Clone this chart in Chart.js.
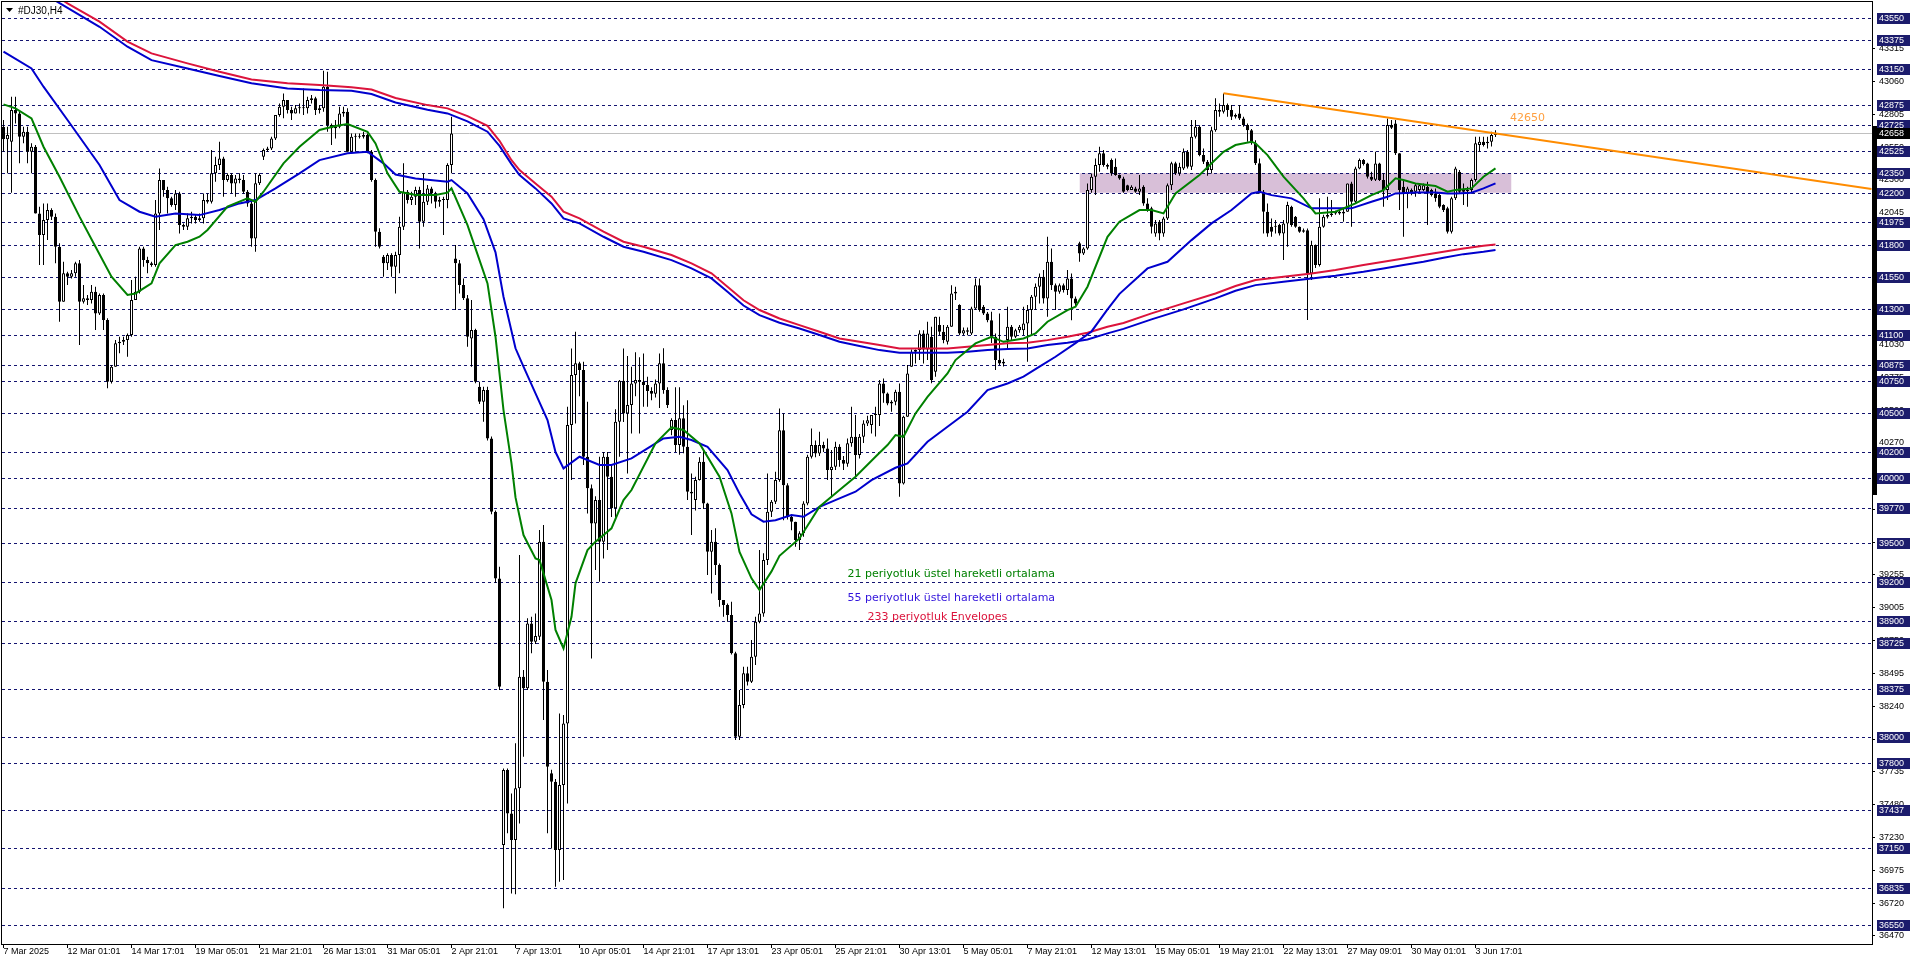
<!DOCTYPE html>
<html>
<head>
<meta charset="utf-8">
<title>#DJ30,H4</title>
<script src="https://cdn.jsdelivr.net/npm/chart.js"></script>
<style>
  html, body { margin: 0; padding: 0; background: #fff; }
  canvas { display: block; }
</style>
</head>
<body>
<canvas id="dj30Chart" width="1916" height="963"></canvas>
<script>
// H4 candles, one entry per bar (bar 0 = 7 Mar 2025)
const opens = [
  42708,42611,42593,42837,42811,42631,42670,42516,42554,42040,41873,41989,42066,42014,41783,41359,41578,41552,41578,41655,
  41359,41385,41372,41436,41269,41411,41218,40742,40858,41038,41051,41064,41102,41372,41436,41770,41680,41655,41642,42040,
  42297,42220,42156,42104,42194,41950,41937,42002,42014,41989,42002,42143,42130,42349,42413,42464,42297,42336,42271,42310,
  42297,42207,42117,41847,42272,42477,42528,42541,42618,42798,42863,42914,42837,42811,42850,42850,42850,42914,42927,42837,
  42850,43017,42721,42696,42708,42811,42824,42516,42631,42631,42631,42644,42516,42297,41899,41706,41655,41719,41629,41719,
  41937,42207,42143,42169,42220,41976,42130,42233,42194,42130,42143,42143,42413,41693,41655,41488,41385,41076,41141,40704,
  40588,40678,40305,39740,39226,37170,37748,37414,37209,37607,38468,38378,38879,38738,38776,39509,38429,37723,37658,37131,
  37633,38108,40408,40794,40884,40832,40164,39920,39650,39830,39509,40164,40010,39766,40434,40750,40498,40562,40729,40755,
  40742,40717,40670,40650,40729,40884,40678,40370,40447,40254,40460,40241,39894,39830,39984,40125,39804,39432,39509,39329,
  39059,39020,38943,38648,38005,38249,38494,38429,38622,38892,38956,39367,39740,39817,39984,40369,39945,39701,39663,39521,
  39573,39804,40164,40254,40189,40254,40228,40061,40087,40241,40138,40110,40267,40318,40177,40318,40421,40408,40485,40485,
  40729,40652,40575,40588,40665,39958,40472,40858,40973,40986,41115,40990,41089,40819,41179,41128,41050,41166,41423,41333,
  41115,41140,41115,41307,41487,41320,41269,41217,41089,40909,40883,41063,41166,41089,41140,41140,41192,41295,41397,41474,
  41552,41384,41667,41487,41436,41487,41449,41539,41384,41809,41731,41770,42220,42323,42413,42503,42413,42451,42400,42336,
  42310,42258,42220,42233,42207,42246,42117,42079,41886,41976,41886,42001,42258,42426,42348,42387,42515,42400,42631,42708,
  42490,42438,42374,42682,42837,42824,42875,42837,42785,42811,42772,42721,42682,42580,42426,42207,42053,41937,41937,41950,
  41886,41963,42091,42014,41937,41911,41911,41577,41796,41642,41937,42014,42027,42040,42053,42040,42053,42271,42130,42387,
  42451,42425,42323,42300,42425,42297,42220,42721,42734,42503,42246,42194,42220,42207,42220,42220,42246,42220,42194,42181,
  42104,42079,41899,42156,42361,42220,42220,42220,42297,42567,42593,42580,42593,42644
];
const highs = [
  42760,42708,42940,42940,42837,42708,42708,42580,42567,42092,42117,42117,42079,42040,41809,41668,41590,41603,41668,41680,
  41488,41411,41488,41475,41423,41423,41231,40871,41064,41089,41089,41115,41526,41552,41783,41783,41706,41668,42143,42387,
  42297,42246,42169,42220,42207,41963,42040,42053,42027,42040,42194,42194,42528,42477,42593,42477,42349,42349,42336,42349,
  42336,42220,42143,42349,42349,42541,42554,42631,42798,42888,42965,42914,42863,42875,42888,43004,42940,42953,42940,42875,
  43140,43132,42734,42760,42863,42863,42850,42657,42657,42657,42670,42657,42528,42310,41925,41719,41732,41732,41745,42014,
  42426,42220,42207,42246,42246,42349,42259,42246,42207,42169,42169,42426,42785,41796,41680,41539,41411,41372,41150,40742,
  40704,40704,40320,39750,39316,37760,37760,37568,37954,39406,38519,38918,38930,38956,39599,39637,38519,37750,37680,38185,
  38172,40550,40999,41128,40896,40896,40588,39950,39860,40164,40200,40200,40100,40530,40755,40999,40940,40858,40970,40930,
  40960,40780,40700,40760,40960,41000,40700,40460,40700,40700,40560,40600,40035,40010,40160,40215,39810,39599,39612,39340,
  39060,39033,39046,38661,38365,38545,38545,38751,38930,39444,39419,40035,39830,40048,40536,40498,39960,39720,39663,39590,
  39820,40180,40382,40290,40357,40280,40305,40215,40279,40260,40170,40305,40549,40485,40340,40446,40480,40485,40549,40755,
  40768,40660,40600,40680,40729,40480,40871,40990,40990,41140,41140,41205,41166,41243,41243,41179,41180,41487,41474,41340,
  41160,41160,41320,41539,41539,41333,41280,41282,41115,41269,40920,41320,41180,41150,41180,41320,41333,41410,41500,41577,
  41603,41860,41770,41500,41500,41500,41603,41577,41400,41821,41780,42271,42348,42464,42554,42528,42425,42464,42464,42340,
  42323,42260,42258,42246,42336,42258,42156,42091,41989,41989,42014,42270,42438,42438,42430,42541,42528,42760,42760,42720,
  42541,42451,42708,42927,42888,42965,42888,42875,42811,42875,42785,42734,42690,42605,42464,42220,42117,42001,41989,41960,
  41989,42130,42100,42020,41940,41924,41924,41830,41800,42156,42030,42168,42143,42060,42060,42079,42271,42284,42400,42464,
  42460,42430,42361,42515,42430,42348,42772,42760,42760,42503,42297,42246,42233,42271,42270,42270,42284,42230,42233,42194,
  42110,42091,42168,42400,42374,42270,42246,42310,42631,42631,42631,42631,42670,42682
];
const lows = [
  42516,42349,42200,42734,42426,42580,42426,42349,42040,41642,41642,41835,41989,41655,41205,41359,41488,41539,41552,41025,
  41346,41333,41346,41141,41256,41141,40691,40729,40858,40961,41025,40935,41089,41372,41423,41629,41578,41629,41629,41912,
  42169,42040,42092,42066,41886,41912,41912,41963,41963,41976,41963,42117,42117,42284,42374,42169,42284,42194,42169,42272,
  42194,42092,41783,41745,42259,42451,42516,42528,42606,42785,42773,42811,42760,42811,42811,42798,42811,42888,42798,42811,
  42824,42670,42567,42618,42696,42785,42516,42516,42516,42618,42618,42503,42284,41783,41770,41552,41603,41552,41423,41578,
  41912,42117,42104,42104,41770,41937,42104,42117,42079,42092,41873,42079,42349,41295,41423,41372,41012,40858,40730,40570,
  40434,40290,39720,39190,38365,36682,37260,36797,36790,37337,37851,38365,38648,38720,38751,38134,37260,37144,36849,36887,
  36900,37491,39984,40421,40630,40100,39727,38609,39290,39200,39380,39444,39700,39700,40164,40432,40035,40344,40630,40344,
  40550,40550,40600,40620,40540,40650,40540,40330,40200,40180,40190,39830,39560,39750,39980,39760,39252,39110,39252,39008,
  38930,38892,38640,37980,37980,38224,38400,38420,38558,38880,38930,39330,39700,39800,39971,39675,39680,39598,39470,39444,
  39547,39790,40150,40160,40170,40200,39984,39855,40061,40087,40061,40087,40240,40010,40150,40270,40400,40344,40320,40400,
  40580,40560,40510,40560,39855,39950,40472,40858,40883,40909,40883,40909,40730,40781,41100,41038,41030,41166,41372,41100,
  41100,41100,41102,41295,41282,41256,41200,41040,40832,40871,40860,40986,41060,41080,41120,41102,40896,41102,41295,41346,
  41346,41243,41449,41295,41420,41430,41410,41217,41320,41667,41719,41760,42200,42181,42361,42400,42380,42330,42330,42300,
  42200,42210,42220,42200,42181,42100,42053,41886,41860,41834,41860,41989,42220,42336,42330,42374,42387,42374,42618,42480,
  42420,42330,42348,42670,42785,42811,42785,42760,42772,42760,42708,42593,42570,42413,42194,41886,41860,41860,41886,41870,
  41680,41783,41937,41930,41890,41890,41218,41526,41620,41630,41930,42000,42014,42030,42030,41976,42053,41937,42120,42380,
  42410,42310,42290,42290,42290,42091,42143,42690,42490,42066,41860,42079,42180,42168,42200,42210,41950,42170,42130,42079,
  42050,41886,41886,42143,42194,42104,42091,42194,42284,42515,42555,42540,42555,42630
];
const closes = [
  42611,42644,42837,42811,42631,42670,42516,42554,42040,41873,41989,42066,42014,41783,41359,41578,41552,41578,41655,41359,
  41385,41372,41436,41269,41411,41218,40742,40858,41038,41051,41064,41102,41372,41436,41770,41680,41655,41642,42040,42297,
  42220,42156,42104,42194,41950,41937,42002,42014,41989,42002,42143,42130,42349,42413,42464,42297,42336,42271,42310,42297,
  42207,42117,41847,42272,42336,42528,42541,42618,42798,42863,42914,42837,42811,42850,42850,42850,42914,42927,42837,42850,
  43017,42721,42696,42708,42811,42824,42516,42631,42631,42631,42644,42516,42297,41899,41783,41655,41719,41629,41719,41937,
  42207,42143,42169,42220,41976,42130,42233,42194,42130,42143,42143,42413,42657,41655,41488,41385,41089,41141,40742,40588,
  40678,40305,39740,39226,38391,37748,37414,37209,37607,38468,38378,38879,38738,38781,39509,38429,37774,37658,37131,37633,
  38108,40408,40794,40884,40832,40164,39920,39650,39830,39509,40164,40010,39766,40434,40750,40498,40562,40729,40755,40742,
  40717,40670,40650,40729,40884,40678,40562,40447,40254,40460,40241,39894,39881,39984,40125,39804,39432,39509,39329,39059,
  39020,38943,38648,38005,38249,38494,38429,38622,38892,38956,39367,39740,39817,39984,40369,39945,39701,39663,39521,39573,
  39804,40164,40254,40189,40254,40228,40061,40087,40241,40138,40110,40267,40318,40177,40318,40421,40446,40485,40485,40729,
  40652,40575,40588,40665,39958,40472,40806,40973,40986,41115,40990,41115,40755,41243,41128,41063,41166,41423,41436,41115,
  41140,41128,41307,41487,41295,41269,41217,41089,40909,40883,40896,41166,41089,41140,41166,41192,41295,41397,41474,41552,
  41384,41667,41487,41436,41487,41449,41539,41384,41346,41731,41770,42220,42323,42413,42503,42413,42400,42348,42336,42310,
  42207,42220,42246,42207,42233,42117,42066,41937,41963,41886,42001,42258,42426,42348,42400,42515,42400,42631,42708,42490,
  42438,42374,42682,42837,42824,42875,42837,42785,42798,42772,42721,42682,42580,42426,42207,42053,41886,41899,41937,41886,
  41963,42104,41950,41937,41899,41899,41577,41796,41642,41937,42014,42027,42040,42053,42040,42053,42271,42130,42387,42451,
  42420,42323,42300,42425,42297,42220,42721,42700,42503,42220,42194,42233,42194,42258,42258,42258,42194,42181,42156,42091,
  42066,41899,42156,42387,42207,42207,42210,42297,42580,42593,42567,42593,42644,42658
];

// bottom axis labels, one every 16 bars
const timeLabels = [
  "7 Mar 2025", "12 Mar 01:01", "14 Mar 17:01", "19 Mar 05:01", "21 Mar 21:01", "26 Mar 13:01",
  "31 Mar 05:01", "2 Apr 21:01", "7 Apr 13:01", "10 Apr 05:01", "14 Apr 21:01", "17 Apr 13:01",
  "23 Apr 05:01", "25 Apr 21:01", "30 Apr 13:01", "5 May 05:01", "7 May 21:01", "12 May 13:01",
  "15 May 05:01", "19 May 21:01", "22 May 13:01", "27 May 09:01", "30 May 01:01", "3 Jun 17:01"
];

// price scale
const priceTicks = [43315, 43060, 42805, 42550, 42300, 42045, 41790, 41540, 41285, 41030, 40775, 40520, 40270, 40015,
  39760, 39505, 39255, 39005, 38750, 38495, 38240, 37985, 37735, 37480, 37230, 36975, 36720, 36470];
const levels = [43550, 43375, 43150, 42875, 42725, 42525, 42350, 42200, 41975, 41800, 41550, 41300, 41100, 40875,
  40750, 40500, 40200, 40000, 39770, 39500, 39200, 38900, 38725, 38375, 38000, 37800, 37437, 37150, 36835, 36550];
const bidPrice = 42658;
const axisBar = [39870, 42714];

// indicators, read at selected bars
const ema21Bars = [0,3,7,10,14,19,23,27,31,33,37,39,43,46,49,51,56,61,63,65,70,74,79,83,86,91,93,96,99,103,108,111,112,116,119,
  121,123,125,127,128,130,133,134,137,138,140,142,143,146,148,152,155,157,163,167,170,174,179,182,184,187,189,192,194,199,
  204,209,213,218,221,223,225,228,231,236,238,243,247,250,255,258,261,266,268,271,276,279,284,287,290,293,299,305,308,312,
  313,316,320,325,328,333,338,342,345,348,350,353,358,361,363,367,370,373];
const ema21Vals = [42881,42850,42773,42554,42323,42015,41783,41552,41411,41423,41500,41655,41796,41822,41860,41912,42092,
  42156,42130,42207,42426,42554,42683,42714,42729,42670,42580,42349,42207,42182,42182,42200,42233,41950,41680,41500,41089,
  40524,40113,39850,39560,39380,39367,39059,38828,38686,38930,39188,39444,39509,39612,39830,39907,40267,40390,40370,40267,
  40010,39727,39430,39226,39136,39280,39400,39534,39778,39907,40010,40164,40254,40331,40318,40498,40626,40806,40909,41038,
  41089,41050,41076,41115,41205,41295,41320,41475,41860,41976,42066,42066,42040,42194,42336,42515,42567,42593,42580,42490,
  42323,42156,42040,42053,42117,42181,42220,42310,42297,42271,42251,42207,42220,42233,42323,42387];

const ema55Bars = [0,7,10,16,24,29,34,38,43,49,54,59,63,68,74,79,86,91,95,98,103,111,112,116,120,123,125,128,130,133,136,
  138,140,144,149,152,157,161,165,169,172,176,181,184,187,190,193,197,200,204,209,213,217,223,226,231,236,241,246,251,255,
  259,263,268,272,276,279,286,291,297,302,307,312,314,317,322,327,333,337,342,346,348,353,358,361,363,367,370,373];
const ema55Vals = [43287,43158,43017,42760,42413,42143,42053,42015,42040,42027,42066,42117,42143,42233,42349,42451,42503,
  42516,42426,42340,42310,42284,42297,42194,41995,41740,41398,41000,40858,40652,40447,40200,40074,40164,40100,40100,40151,
  40228,40305,40318,40293,40241,40061,39881,39720,39663,39675,39714,39701,39778,39843,39894,39984,40079,40112,40279,40395,
  40511,40678,40729,40781,40858,40935,41040,41130,41300,41420,41616,41667,41834,41963,42066,42194,42207,42181,42156,42079,
  42079,42079,42130,42168,42194,42202,42202,42194,42194,42200,42233,42271];

const envUpperBars = [13,16,24,31,37,46,54,62,71,79,87,92,98,106,111,116,121,124,127,129,133,137,140,144,150,155,160,167,
  172,177,181,185,189,194,199,204,209,214,219,224,231,236,241,246,251,256,261,266,271,276,280,287,295,303,308,313,320,327,
  333,340,345,350,355,360,365,370,373];
const envUpperVals = [43720,43659,43518,43364,43274,43197,43132,43073,43043,43030,43012,42995,42930,42875,42850,42790,
  42715,42600,42450,42374,42271,42169,42053,42002,41899,41822,41783,41719,41655,41578,41475,41370,41295,41230,41179,41128,
  41076,41050,41025,40999,40999,40999,41012,41025,41038,41043,41063,41089,41120,41166,41195,41269,41346,41423,41480,41526,
  41552,41577,41603,41642,41667,41693,41719,41745,41770,41791,41801];

const envLowerBars = [13,24,31,37,46,54,62,71,79,87,92,98,106,111,116,121,124,127,129,133,137,140,144,150,155,160,167,172,
  177,181,185,189,194,199,204,209,214,219,224,231,236,241,246,251,256,261,266,271,276,280,287,295,303,308,313,320,327,333,
  340,345,350,355,360,365,370,373];
const envLowerVals = [43680,43479,43325,43222,43158,43099,43043,43004,42991,42986,42960,42895,42840,42811,42750,42670,
  42560,42420,42336,42233,42117,42002,41963,41860,41783,41745,41680,41616,41539,41436,41330,41256,41197,41153,41102,41050,
  41017,40986,40966,40966,40966,40973,40986,40994,40999,41025,41043,41068,41115,41150,41223,41300,41385,41444,41487,41513,
  41539,41560,41590,41616,41642,41667,41698,41726,41744,41757];

// drawn objects
const trendBars = [305, 467];
const trendPrices = [42966, 42228];
const zoneBars = [269, 377];
const zonePrices = [42200, 42350];

const notes = [
  { text: "21 periyotluk üstel hareketli ortalama", bar: 211, price: 39260, color: "rgb(0,128,0)" },
  { text: "55 periyotluk üstel hareketli ortalama", bar: 211, price: 39075, color: "rgb(50,20,220)" },
  { text: "233 periyotluk Envelopes", bar: 216, price: 38928, color: "rgb(220,20,60)" },
  { text: "42650", bar: 376.6, price: 42771, color: "rgb(255,160,64)" },
];

const X_MIN = -0.375;
const X_MAX = 467.125;
const Y_MIN = 36407;
const Y_MAX = 43670;

const FONT = "'Liberation Sans', Arial, sans-serif";
const NOTE_FONT = "11px 'DejaVu Sans', sans-serif";
const LEVEL_COLOR = "#141470";
const BOX_COLOR = "#1c1c6c";

const toPoints = (bars, vals) => bars.map((b, k) => ({ x: b, y: vals[k] }));

const levelLinesPlugin = {
  id: "levelLines",
  beforeDatasetDraw(chart, args) {
    if (chart.data.datasets[args.index].label !== "wicks") return;
    const { ctx, chartArea, scales } = chart;
    ctx.save();
    ctx.lineWidth = 1;
    ctx.strokeStyle = "#c0c0c0";
    const by = Math.round(scales.y.getPixelForValue(bidPrice)) + 0.5;
    ctx.beginPath();
    ctx.moveTo(chartArea.left, by);
    ctx.lineTo(chartArea.right, by);
    ctx.stroke();
    ctx.strokeStyle = LEVEL_COLOR;
    ctx.setLineDash([3, 3]);
    levels.forEach((p) => {
      const py = Math.round(scales.y.getPixelForValue(p)) + 0.5;
      ctx.beginPath();
      ctx.moveTo(chartArea.left, py);
      ctx.lineTo(chartArea.right, py);
      ctx.stroke();
    });
    ctx.restore();
  },
};

const notesPlugin = {
  id: "notes",
  afterDatasetsDraw(chart) {
    const { ctx, scales } = chart;
    ctx.save();
    ctx.textAlign = "left";
    ctx.textBaseline = "middle";
    ctx.font = NOTE_FONT;
    notes.forEach((n) => {
      ctx.fillStyle = n.color;
      ctx.fillText(n.text, scales.x.getPixelForValue(n.bar), scales.y.getPixelForValue(n.price));
    });
    ctx.restore();
  },
};

const frameAndAxisPlugin = {
  id: "frameAndAxis",
  afterDraw(chart) {
    const { ctx, chartArea, scales } = chart;
    const x0 = chartArea.right;
    ctx.save();
    ctx.strokeStyle = "#000";
    ctx.lineWidth = 1;
    ctx.strokeRect(chartArea.left - 0.5, chartArea.top - 0.5,
      chartArea.right - chartArea.left + 1, chartArea.bottom - chartArea.top + 1);

    // thick black strip on the price axis
    const t = scales.y.getPixelForValue(axisBar[1]);
    const b = scales.y.getPixelForValue(axisBar[0]);
    ctx.fillStyle = "#000";
    ctx.fillRect(x0 + 1, Math.round(t), 4, Math.round(b - t));

    ctx.font = `9px ${FONT}`;
    ctx.textAlign = "left";
    ctx.textBaseline = "middle";
    levels.forEach((p) => {
      const py = Math.round(scales.y.getPixelForValue(p));
      ctx.fillStyle = BOX_COLOR;
      ctx.fillRect(x0 + 5, py - 5, 33, 11);
      ctx.fillStyle = "#fff";
      ctx.fillText(String(p), x0 + 7, py + 1);
    });
    const by = Math.round(scales.y.getPixelForValue(bidPrice));
    ctx.fillStyle = "#000";
    ctx.fillRect(x0 + 1, by - 5, 37, 11);
    ctx.fillStyle = "#fff";
    ctx.fillText(String(bidPrice), x0 + 7, by + 1);

    // symbol caption
    ctx.fillStyle = "#000";
    ctx.beginPath();
    ctx.moveTo(6, 8);
    ctx.lineTo(13, 8);
    ctx.lineTo(9.5, 12);
    ctx.closePath();
    ctx.fill();
    ctx.font = `10px ${FONT}`;
    ctx.fillText("#DJ30,H4", 18, 11);
    ctx.restore();
  },
};

const bars = opens.map((o, i) => i);
const wickData = bars.map((i) => ({
  x: i,
  y: [Math.min(lows[i], opens[i], closes[i]), Math.max(highs[i], opens[i], closes[i])],
}));
const bodyData = bars.map((i) => ({ x: i, y: [opens[i], closes[i]] }));
const bodyColors = bars.map((i) => (closes[i] >= opens[i] ? "#ffffff" : "#000000"));

const lineSet = (label, data, color, order) => ({
  type: "line",
  label,
  data,
  borderColor: color,
  borderWidth: 2,
  pointRadius: 0,
  tension: 0,
  fill: false,
  order,
});

Chart.defaults.font.family = FONT;
Chart.defaults.font.size = 9;
Chart.defaults.color = "#000";

const ctx = document.getElementById("dj30Chart").getContext("2d");
new Chart(ctx, {
  type: "bar",
  data: {
    datasets: [
      {
        type: "line",
        label: "zone",
        data: toPoints(zoneBars, [zonePrices[1], zonePrices[1]]),
        borderWidth: 0,
        pointRadius: 0,
        backgroundColor: "rgb(216,191,216)",
        fill: { value: zonePrices[0] },
        order: 10,
      },
      {
        label: "wicks",
        data: wickData,
        backgroundColor: "#000",
        borderWidth: 0,
        barThickness: 1,
        grouped: false,
        inflateAmount: 0,
        order: 6,
      },
      {
        label: "bodies",
        data: bodyData,
        backgroundColor: bodyColors,
        borderColor: "#000",
        borderWidth: 1,
        borderSkipped: false,
        barThickness: 3,
        minBarLength: 1,
        grouped: false,
        inflateAmount: 0,
        order: 5,
      },
      lineSet("Envelopes upper", toPoints(envUpperBars, envUpperVals), "rgb(220,20,60)", 4),
      lineSet("Envelopes lower", toPoints(envLowerBars, envLowerVals), "rgb(0,0,205)", 4),
      lineSet("EMA 55", toPoints(ema55Bars, ema55Vals), "rgb(0,0,205)", 3),
      lineSet("EMA 21", toPoints(ema21Bars, ema21Vals), "rgb(0,128,0)", 2),
      lineSet("Trend", toPoints(trendBars, trendPrices), "rgb(255,140,0)", 1),
    ],
  },
  options: {
    responsive: false,
    animation: false,
    devicePixelRatio: 1,
    events: [],
    layout: { padding: { left: 2, top: 2, right: 0, bottom: 0 } },
    plugins: { legend: { display: false }, tooltip: { enabled: false } },
    scales: {
      x: {
        type: "linear",
        min: X_MIN,
        max: X_MAX,
        offset: false,
        bounds: "data",
        border: { display: false },
        grid: { drawOnChartArea: false, drawTicks: true, tickLength: 4, color: "#000", offset: false },
        ticks: {
          autoSkip: false,
          maxRotation: 0,
          minRotation: 0,
          align: "start",
          padding: -2,
          color: "#000",
          font: { size: 9 },
          callback: (value, index) => timeLabels[index],
        },
        afterBuildTicks: (scale) => {
          scale.ticks = timeLabels.map((_, k) => ({ value: k * 16 }));
        },
        afterFit: (scale) => {
          scale.height = 19;
          scale.paddingLeft = 0;
          scale.paddingRight = 0;
        },
      },
      y: {
        position: "right",
        min: Y_MIN,
        max: Y_MAX,
        bounds: "data",
        border: { display: false },
        grid: { drawOnChartArea: false, drawTicks: true, tickLength: 3, color: "#000" },
        ticks: {
          autoSkip: false,
          padding: 4,
          color: "#000",
          font: { size: 9 },
          callback: (value) => String(value),
        },
        afterBuildTicks: (scale) => {
          scale.ticks = priceTicks.map((v) => ({ value: v }));
        },
        afterFit: (scale) => {
          scale.width = 44;
          scale.paddingTop = 0;
          scale.paddingBottom = 0;
        },
      },
    },
  },
  plugins: [levelLinesPlugin, notesPlugin, frameAndAxisPlugin],
});
</script>
</body>
</html>
